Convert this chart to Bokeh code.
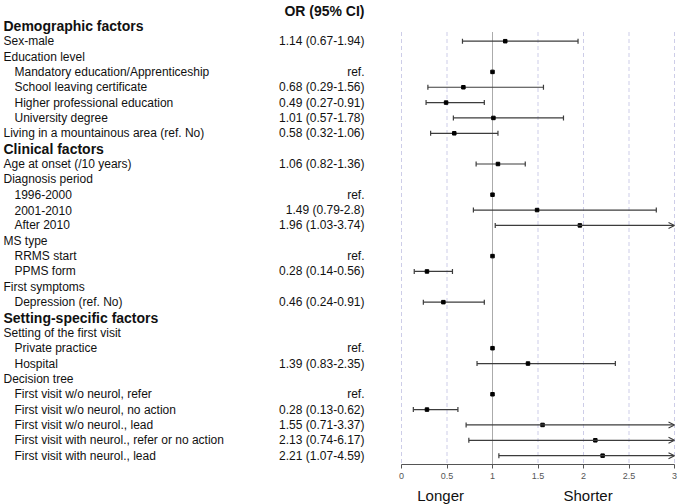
from bokeh.plotting import figure
from bokeh.models import (Range1d, LinearAxis, FixedTicker, NumeralTickFormatter,
                          ColumnDataSource, Arrow, OpenHead)
from bokeh.layouts import column
from bokeh.core.properties import value
from bokeh.embed import file_html
from bokeh.resources import INLINE
import math

# ---------------- data ----------------
header = "OR (95% CI)"
labels = [
    "Demographic factors",
    "Sex-male",
    "Education level",
    "Mandatory education/Apprenticeship",
    "School leaving certificate",
    "Higher professional education",
    "University degree",
    "Living in a mountainous area (ref. No)",
    "Clinical factors",
    "Age at onset (/10 years)",
    "Diagnosis period",
    "1996-2000",
    "2001-2010",
    "After 2010",
    "MS type",
    "RRMS start",
    "PPMS form",
    "First symptoms",
    "Depression (ref. No)",
    "Setting-specific factors",
    "Setting of the first visit",
    "Private practice",
    "Hospital",
    "Decision tree",
    "First visit w/o neurol, refer",
    "First visit w/o neurol, no action",
    "First visit w/o neurol., lead",
    "First visit with neurol., refer or no action",
    "First visit with neurol., lead",
]
section = [1, 0, 0, 0, 0, 0, 0, 0, 1, 0, 0, 0, 0, 0, 0, 0, 0, 0, 0, 1, 0, 0, 0, 0, 0, 0, 0, 0, 0]
indent = [0, 0, 0, 1, 1, 1, 1, 0, 0, 0, 0, 1, 1, 1, 0, 1, 1, 0, 1, 0, 0, 1, 1, 0, 1, 1, 1, 1, 1]
or_est = [None, 1.14, None, 1.0, 0.68, 0.49, 1.01, 0.58, None, 1.06, None, 1.0, 1.49, 1.96,
          None, 1.0, 0.28, None, 0.46, None, None, 1.0, 1.39, None, 1.0, 0.28, 1.55, 2.13, 2.21]
ci_lo = [None, 0.67, None, None, 0.29, 0.27, 0.57, 0.32, None, 0.82, None, None, 0.79, 1.03,
         None, None, 0.14, None, 0.24, None, None, None, 0.83, None, None, 0.13, 0.71, 0.74, 1.07]
ci_hi = [None, 1.94, None, None, 1.56, 0.91, 1.78, 1.06, None, 1.36, None, None, 2.8, 3.74,
         None, None, 0.56, None, 0.91, None, None, None, 2.35, None, None, 0.62, 3.37, 6.17, 4.59]
x_ticks = [0, 0.5, 1, 1.5, 2, 2.5, 3]
dashed_grid = [0, 0.5, 1.5, 2, 2.5, 3]
ref_line = [1]
x_max = 3
direction_labels = ["Longer", "Shorter"]
direction_x = [0.43, 2.05]

# ---------------- layout helpers ----------------
W = 680
H_MAIN = 483
H_FOOT = 21
FRAME_BOTTOM_PX = 464
ROW_PX = 15.35
ROW0_PX = 10.0
ZERO_PX = 401.0
SCALE = 91.0

def px2x(px):
    return (px - ZERO_PX) / SCALE

y_top = -ROW0_PX / ROW_PX
y_bot = (FRAME_BOTTOM_PX - ROW0_PX) / ROW_PX
xr = Range1d(px2x(0), px2x(W))

p = figure(width=W, height=H_MAIN, output_backend="svg", toolbar_location=None,
           x_range=xr, y_range=Range1d(y_bot, y_top),
           x_axis_type=None, y_axis_type=None,
           min_border_left=0, min_border_right=0, min_border_top=0,
           min_border_bottom=H_MAIN - FRAME_BOTTOM_PX)
p.outline_line_color = None
p.background_fill_color = "white"
p.border_fill_color = "white"

FONT = value("Liberation Sans")
TXT = "#111111"
rows = list(range(1, len(labels) + 1))

# header
p.text(x=[px2x(364)], y=[0], text=[header], text_font=FONT, text_font_size="14px",
       text_font_style="bold", text_align="right", text_baseline="middle", text_color=TXT)

# labels
sec_y = [r for r, s in zip(rows, section) if s]
sec_t = [t for t, s in zip(labels, section) if s]
p.text(x=[px2x(3)] * len(sec_y), y=sec_y, text=sec_t, text_font=FONT, text_font_size="14px",
       text_font_style="bold", text_align="left", text_baseline="middle", text_color=TXT)
for ind, xpx in ((0, 3), (1, 14)):
    ys = [r for r, s, i in zip(rows, section, indent) if not s and i == ind]
    ts = [t for t, s, i in zip(labels, section, indent) if not s and i == ind]
    p.text(x=[px2x(xpx)] * len(ys), y=ys, text=ts, text_font=FONT, text_font_size="12px",
           text_align="left", text_baseline="middle", text_color=TXT)

# OR text column
or_y, or_t = [], []
for r, e, lo, hi in zip(rows, or_est, ci_lo, ci_hi):
    if e is None:
        continue
    or_y.append(r)
    or_t.append("ref." if lo is None else f"{e:g} ({lo:g}-{hi:g})")
p.text(x=[px2x(364)] * len(or_y), y=or_y, text=or_t, text_font=FONT, text_font_size="12px",
       text_align="right", text_baseline="middle", text_color=TXT)

# grid lines
grid_top = 1.4
p.segment(x0=dashed_grid, x1=dashed_grid, y0=[grid_top] * len(dashed_grid),
          y1=[y_bot] * len(dashed_grid), line_color="#cdcde8", line_width=1, line_dash="4 3")
p.segment(x0=ref_line, x1=ref_line, y0=[grid_top], y1=[y_bot], line_color="#ababab", line_width=1)

# CIs
LC = "#3c3c3c"
seg_x0, seg_x1, seg_y = [], [], []
arr_x0, arr_x1, arr_y = [], [], []
cap_x, cap_y = [], []
pt_x, pt_y = [], []
for r, e, lo, hi in zip(rows, or_est, ci_lo, ci_hi):
    if e is None:
        continue
    pt_x.append(e); pt_y.append(r)
    if lo is None:
        continue
    cap_x.append(lo); cap_y.append(r)
    if hi > x_max:
        arr_x0.append(lo); arr_x1.append(x_max); arr_y.append(r)
    else:
        seg_x0.append(lo); seg_x1.append(hi); seg_y.append(r)
        cap_x.append(hi); cap_y.append(r)

p.segment(x0=seg_x0, x1=seg_x1, y0=seg_y, y1=seg_y, line_color=LC, line_width=1.2)
p.scatter(x=cap_x, y=cap_y, marker="dash", angle=math.pi / 2, size=5,
          line_color=LC, line_width=1.2)
arr_src = ColumnDataSource(dict(x0=arr_x0, x1=arr_x1, y=arr_y))
p.add_layout(Arrow(end=OpenHead(size=6, line_color=LC, line_width=1.1),
                   x_start="x0", y_start="y", x_end="x1", y_end="y",
                   source=arr_src, line_color=LC, line_width=1.2))
p.scatter(x=pt_x, y=pt_y, marker="square", size=3.5, fill_color="black", line_color="black")

# x axis
ax = LinearAxis(ticker=FixedTicker(ticks=x_ticks), formatter=NumeralTickFormatter(format="0.[0]"),
                bounds=(0, 3))
ax.axis_line_color = "#555555"
ax.major_tick_line_color = "#555555"
ax.major_tick_out = 4
ax.major_tick_in = 0
ax.minor_tick_line_color = None
ax.major_label_text_font = "Liberation Sans"
ax.major_label_text_font_size = "9px"
ax.major_label_text_color = "#555555"
ax.major_label_standoff = 4
p.add_layout(ax, "below")

# footer with direction labels
p2 = figure(width=W, height=H_FOOT, output_backend="svg", toolbar_location=None,
            x_range=xr, y_range=Range1d(0, H_FOOT), x_axis_type=None, y_axis_type=None,
            min_border_left=0, min_border_right=0, min_border_top=0, min_border_bottom=0)
p2.outline_line_color = None
p2.background_fill_color = "white"
p2.border_fill_color = "white"
p2.text(x=direction_x, y=[H_FOOT - 12] * len(direction_x), text=direction_labels, text_font=FONT,
        text_font_size="15px", text_align="center", text_baseline="alphabetic", text_color=TXT)

layout = column(p, p2, spacing=0)
open("out.html", "w").write(file_html(layout, INLINE))
